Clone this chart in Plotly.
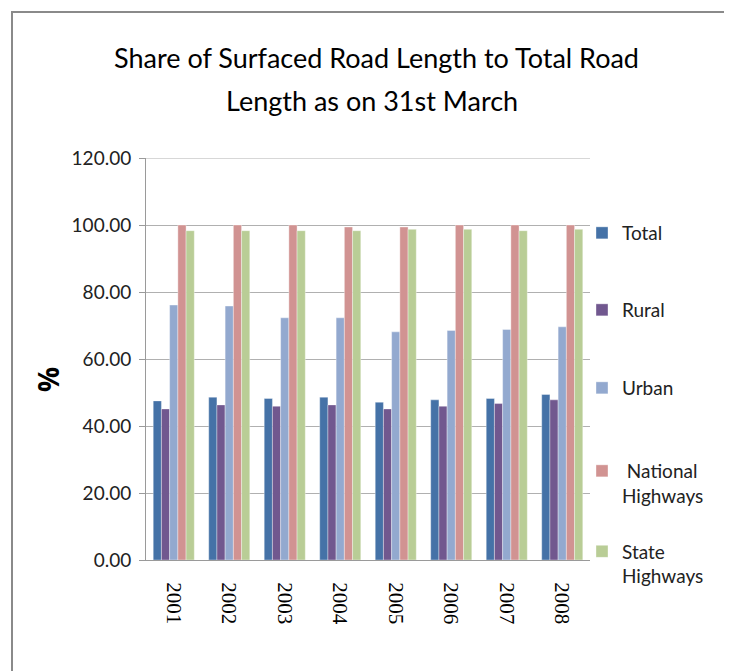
import plotly.graph_objects as go

years = ["2001", "2002", "2003", "2004", "2005", "2006", "2007", "2008"]
total = [47.5, 48.6, 48.2, 48.6, 47.1, 47.8, 48.2, 49.4]
rural = [45.1, 46.3, 45.9, 46.3, 45.1, 45.9, 46.7, 47.8]
urban = [76.1, 75.8, 72.3, 72.3, 68.1, 68.5, 68.8, 69.6]
national = [100.0, 100.0, 100.0, 99.4, 99.4, 100.0, 100.0, 100.0]
state = [98.3, 98.3, 98.3, 98.3, 98.7, 98.7, 98.3, 98.7]

title_line1 = "Share of Surfaced Road Length to Total Road"
title_line2 = "Length as on 31st March"

series = [
    ("Total", total, "#4572A7", "legend2"),
    ("Rural", rural, "#71588F", "legend3"),
    ("Urban", urban, "#93A9CF", "legend4"),
    ("&nbsp;National<br>Highways", national, "#D19392", "legend5"),
    ("State<br>Highways", state, "#B9CD96", "legend6"),
]

fig = go.Figure()
for name, vals, color, lg in series:
    fig.add_trace(go.Bar(
        x=years, y=vals, name=name, showlegend=True,
        marker=dict(color=color, line=dict(color="rgba(255,255,255,0.6)", width=0.6)),
        legend=lg,
    ))

# page body adds an 8px offset; figure sized to fit inside window
OFF = 8
W, H = 724, 663
PL, PR, PT, PB = 146, 590, 158, 560  # plot area in screen pixels
L = PL - OFF
R = W - (PR - OFF)
T = PT - OFF
B = H - (PB - OFF)
pw, ph = PR - PL, PB - PT

def px_x(p):
    return (p - PL) / pw

def px_y(p):
    return (PB - p) / ph

legfont = dict(family="Lato, Open Sans, sans-serif", size=19, color="#222")
leg_common = dict(font=legfont, bgcolor="rgba(0,0,0,0)", xanchor="left",
                  yanchor="middle", valign="top", itemwidth=30)
lx = px_x(582)
legend_pos = [233, 310, 388, 483.5, 564]

titlefont = dict(family="Lato, Open Sans, sans-serif", size=27, color="black")

fig.update_layout(
    width=W, height=H,
    margin=dict(l=L, r=R, t=T, b=B),
    paper_bgcolor="white", plot_bgcolor="white",
    barmode="group", bargap=0.26, bargroupgap=0,
    title=dict(
        text=title_line1,
        x=px_x(372), xanchor="center", y=1 - (59 - OFF) / H, yanchor="middle",
        font=titlefont,
    ),
    xaxis=dict(
        tickangle=90, showline=True, linecolor="#9a9a9a", linewidth=1,
        ticks="", showgrid=False, ticklabelstandoff=17,
        tickfont=dict(family="Liberation Serif, serif", size=21, color="black"),
    ),
    yaxis=dict(
        range=[0, 120], dtick=20, tickformat=".2f",
        showline=True, linecolor="#9a9a9a", linewidth=1,
        ticks="outside", ticklen=6, tickcolor="#9a9a9a", ticklabelstandoff=4,
        showgrid=True, gridcolor="#b0b0b0", gridwidth=1, zeroline=False,
        tickfont=dict(family="Lato, Open Sans, sans-serif", size=19, color="#222"),
    ),
    legend2=dict(x=lx, y=px_y(legend_pos[0]), **leg_common),
    legend3=dict(x=lx, y=px_y(legend_pos[1]), **leg_common),
    legend4=dict(x=lx, y=px_y(legend_pos[2]), **leg_common),
    legend5=dict(x=lx, y=px_y(legend_pos[3]), **leg_common),
    legend6=dict(x=lx, y=px_y(legend_pos[4]), **leg_common),
    annotations=[
        dict(text=title_line2, xref="paper", yref="paper",
             x=px_x(372), y=px_y(100), xanchor="center", yanchor="middle",
             showarrow=False, font=titlefont),
        dict(text="<b>%</b>", xref="paper", yref="paper",
             x=px_x(48), y=px_y(380), xanchor="center", yanchor="middle",
             showarrow=False, textangle=-90,
             font=dict(family="Open Sans, sans-serif", size=28, color="black")),
    ],
    shapes=[
        dict(type="rect", xref="paper", yref="paper",
             x0=px_x(12), x1=px_x(727), y0=px_y(700), y1=px_y(12),
             line=dict(color="#8a8a8a", width=2), layer="below"),
        dict(type="line", xref="paper", yref="y", x0=0, x1=1, y0=120, y1=120,
             line=dict(color="#b0b0b0", width=1), layer="below"),
    ],
)

fig.write_html("out.html")
